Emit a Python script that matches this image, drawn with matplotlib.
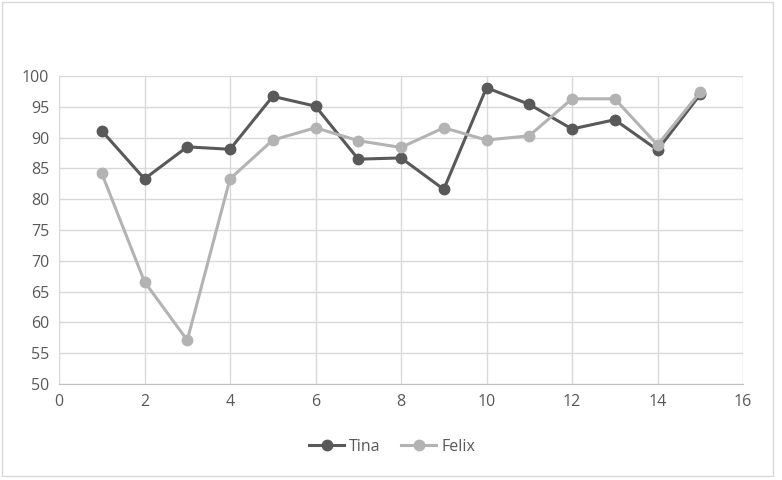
import matplotlib.pyplot as plt
from matplotlib.patches import Rectangle

x = list(range(1, 16))
tina = [91.1, 83.3, 88.5, 88.1, 96.7, 95.1, 86.5, 86.7, 81.6, 98.1, 95.4, 91.4, 92.9, 88.0, 97.0]
felix = [84.2, 66.6, 57.1, 83.3, 89.6, 91.6, 89.5, 88.4, 91.6, 89.6, 90.3, 96.3, 96.3, 88.8, 97.4]

plt.rcParams["font.family"] = ["Open Sans", "DejaVu Sans"]

fig = plt.figure(figsize=(7.82, 4.8), dpi=100)
ax = fig.add_axes([59 / 782, 1 - 384 / 480, (743 - 59) / 782, (384 - 76) / 480])

ax.plot(x, tina, color="#595959", lw=2.2, marker="o", ms=7.5, label="Tina", zorder=3)
ax.plot(x, felix, color="#b3b3b3", lw=2.2, marker="o", ms=7.5, label="Felix", zorder=3)

ax.set_xlim(0, 16)
ax.set_ylim(50, 100)
ax.set_xticks(range(0, 17, 2))
ax.set_yticks(range(50, 101, 5))
ax.grid(True, color="#d9d9d9", lw=1)
ax.set_axisbelow(True)
for s in ax.spines.values():
    s.set_visible(False)
ax.spines["bottom"].set_visible(True)
ax.spines["bottom"].set_color("#bfbfbf")
ax.spines["left"].set_visible(True)
ax.spines["left"].set_color("#d9d9d9")
ax.tick_params(length=0, labelsize=11.5, labelcolor="#595959", pad=7)

fig.legend(loc="center", bbox_to_anchor=(392 / 782, 1 - 447 / 480), ncol=2, frameon=False,
           fontsize=11.5, labelcolor="#595959", handlelength=2.2, handletextpad=0.3,
           columnspacing=1.3)

fig.patches.append(Rectangle((2 / 782, 4 / 480), 771 / 782, 474 / 480, transform=fig.transFigure,
                             fill=False, edgecolor="#d9d9d9", lw=1))

fig.savefig("out.png", dpi=100)
